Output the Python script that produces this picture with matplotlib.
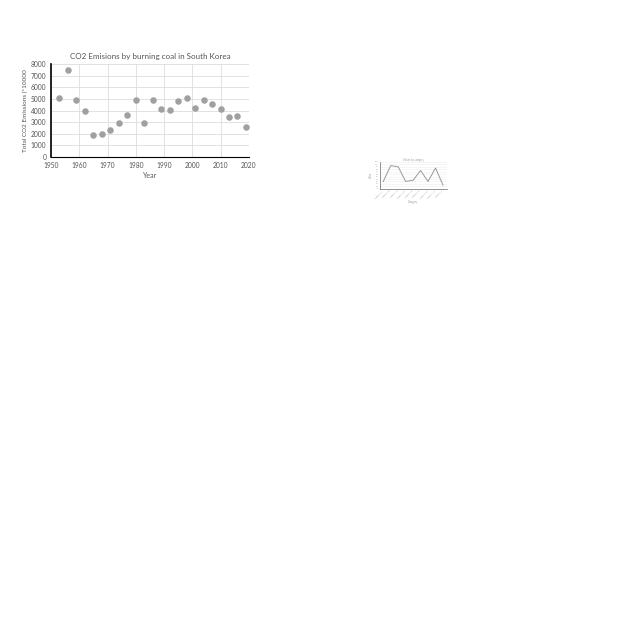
import matplotlib
matplotlib.use("Agg")
import matplotlib.pyplot as plt

plt.rcParams["font.family"] = ["Lato", "DejaVu Sans"]

# main scatter: CO2 emissions from coal, South Korea
years = [1953, 1956, 1959, 1962, 1965, 1968, 1971, 1974, 1977, 1980, 1983, 1986,
         1989, 1992, 1995, 1998, 2001, 2004, 2007, 2010, 2013, 2016, 2019]
emissions = [5100, 7500, 4950, 3950, 1900, 1950, 2300, 2900, 3650, 4900, 2950, 4950,
             4150, 4050, 4800, 5100, 4250, 4950, 4550, 4150, 3450, 3550, 2600]
x_ticks = [1950, 1960, 1970, 1980, 1990, 2000, 2010, 2020]
y_ticks = [0, 1000, 2000, 3000, 4000, 5000, 6000, 7000, 8000]

# small line chart (text unreadable at this size)
small_labels = ["Category A", "Category B", "Category C", "Category D", "Category E",
                "Category F", "Category G", "Category H", "Category I"]
small_values = [30, 95, 90, 30, 35, 75, 30, 85, 15]

fig = plt.figure(figsize=(6.4, 6.4), dpi=100)

ax = fig.add_axes([0.0797, 0.7547, 0.309, 0.145])
ax.scatter(years, emissions, s=22, color="#a0a0a0", zorder=3, linewidths=0)
ax.set_xlim(1950, 2020)
ax.set_ylim(0, 8000)
ax.set_xticks(x_ticks)
ax.set_yticks(y_ticks)
ax.grid(True, color="#dddddd", linewidth=0.6)
ax.tick_params(labelsize=4.8, length=0, pad=3.5, colors="#555555")
for s in ["top", "right"]:
    ax.spines[s].set_visible(False)
ax.spines["left"].set_linewidth(1.2)
ax.spines["bottom"].set_linewidth(0.8)
ax.set_title("CO2 Emisions by burning coal in South Korea", fontsize=5.8,
             color="#555555", pad=4)
ax.set_xlabel("Year", fontsize=5, color="#555555", labelpad=2)
ax.set_ylabel("Total CO2 Emissions (*10000", fontsize=4.6, color="#555555", labelpad=2)

ax2 = fig.add_axes([0.593, 0.705, 0.105, 0.042])
ax2.plot(range(len(small_values)), small_values, color="#999999", linewidth=0.7)
ax2.set_xlim(-0.5, len(small_values) - 0.5)
ax2.set_ylim(0, 110)
ax2.set_xticks(range(len(small_labels)))
ax2.set_xticklabels(small_labels, rotation=45, ha="right", fontsize=1.8, color="#999999")
ax2.set_yticks(range(0, 111, 10))
ax2.tick_params(labelsize=1.5, length=0, pad=1, colors="#999999")
ax2.grid(True, axis="y", color="#eeeeee", linewidth=0.4)
for s in ["top", "right"]:
    ax2.spines[s].set_visible(False)
ax2.spines["left"].set_linewidth(0.5)
ax2.spines["bottom"].set_linewidth(0.5)
ax2.spines["left"].set_color("#666666")
ax2.spines["bottom"].set_color("#666666")
ax2.set_title("Values by category", fontsize=1.8, color="#999999", pad=1)
ax2.set_xlabel("Category", fontsize=1.8, color="#999999", labelpad=1)
ax2.set_ylabel("Value", fontsize=1.8, color="#999999", labelpad=1)

fig.savefig("out.png", dpi=100)
